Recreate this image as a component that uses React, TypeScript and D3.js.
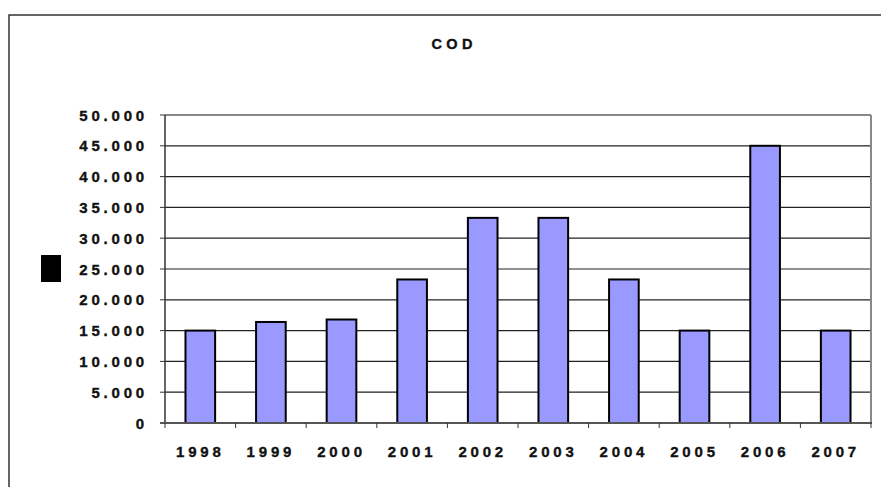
import React from "react";
import * as d3 from "d3";

// Annual COD values
const years = ["1998", "1999", "2000", "2001", "2002", "2003", "2004", "2005", "2006", "2007"];
const codValues = [15000, 16400, 16800, 23300, 33300, 33300, 23300, 15000, 45000, 15000];
const yTicks = [0, 5000, 10000, 15000, 20000, 25000, 30000, 35000, 40000, 45000, 50000];
const chartTitle = "COD";

const W = 881;
const H = 487;
const plot = { left: 165, right: 871, top: 115, bottom: 423 };

const fmt = (v: number) => (v === 0 ? "0" : d3.format(",")(v).replace(/,/g, "."));

const font = "Arial, 'Liberation Sans', sans-serif";
const labelStyle = {
  fontFamily: font,
  fontWeight: "bold" as const,
  fontSize: 15,
  fill: "#111",
  stroke: "#111",
  strokeWidth: 0.35,
};

export default function App() {
  const x = d3
    .scaleBand<string>()
    .domain(years)
    .range([plot.left, plot.right])
    .paddingInner(0.58)
    .paddingOuter(0.29);
  const xCat = d3.scaleBand<string>().domain(years).range([plot.left, plot.right]);
  const y = d3.scaleLinear().domain([0, 50000]).range([plot.bottom, plot.top]);

  return (
    <svg
      width={W}
      height={H}
      style={{ position: "absolute", left: 0, top: 0, background: "#fff" }}
    >
      {/* outer chart frame */}
      <rect x={9} y={15} width={W + 20} height={H + 20} fill="#fff" stroke="#333" strokeWidth={1.5} />

      <text
        x={452 + 2.2}
        y={49}
        textAnchor="middle"
        letterSpacing={4.4}
        style={{ ...labelStyle, fontSize: 14.5 }}
      >
        {chartTitle}
      </text>

      {/* axis title block */}
      <rect x={41} y={255} width={20} height={27} fill="#000" />

      {/* gridlines */}
      {yTicks.map((t) => (
        <line
          key={"g" + t}
          x1={plot.left}
          x2={plot.right}
          y1={y(t)}
          y2={y(t)}
          stroke={t === 50000 ? "#888" : "#222"}
          strokeWidth={t === 50000 ? 2 : 1.2}
        />
      ))}

      {/* right border of plot area */}
      <line x1={plot.right} x2={plot.right} y1={plot.top} y2={plot.bottom} stroke="#888" strokeWidth={2} />

      {/* bars */}
      {years.map((yr, i) => (
        <rect
          key={yr}
          x={x(yr)!}
          y={y(codValues[i])}
          width={x.bandwidth()}
          height={y(0) - y(codValues[i])}
          fill="#9999FF"
          stroke="#000"
          strokeWidth={2}
        />
      ))}

      {/* y axis */}
      <line x1={plot.left} x2={plot.left} y1={plot.top} y2={plot.bottom} stroke="#333" strokeWidth={1.5} />
      {yTicks.map((t) => (
        <g key={"yt" + t}>
          <line x1={plot.left - 5} x2={plot.left} y1={y(t)} y2={y(t)} stroke="#333" strokeWidth={1} />
          <text x={148} y={y(t) + 5.5} textAnchor="end" letterSpacing={3.8} style={labelStyle}>
            {fmt(t)}
          </text>
        </g>
      ))}

      {/* x axis */}
      <line x1={plot.left - 5} x2={plot.right + 1} y1={plot.bottom} y2={plot.bottom} stroke="#555" strokeWidth={2} />
      {[...years.map((yr) => xCat(yr)!), plot.right].map((px, i) => (
        <line key={"xt" + i} x1={px} x2={px} y1={plot.bottom} y2={plot.bottom + 5} stroke="#333" strokeWidth={1} />
      ))}
      {years.map((yr) => (
        <text
          key={"xl" + yr}
          x={xCat(yr)! + xCat.bandwidth() / 2}
          y={456.5}
          textAnchor="middle"
          letterSpacing={3.8}
          style={labelStyle}
        >
          {yr}
        </text>
      ))}
    </svg>
  );
}
